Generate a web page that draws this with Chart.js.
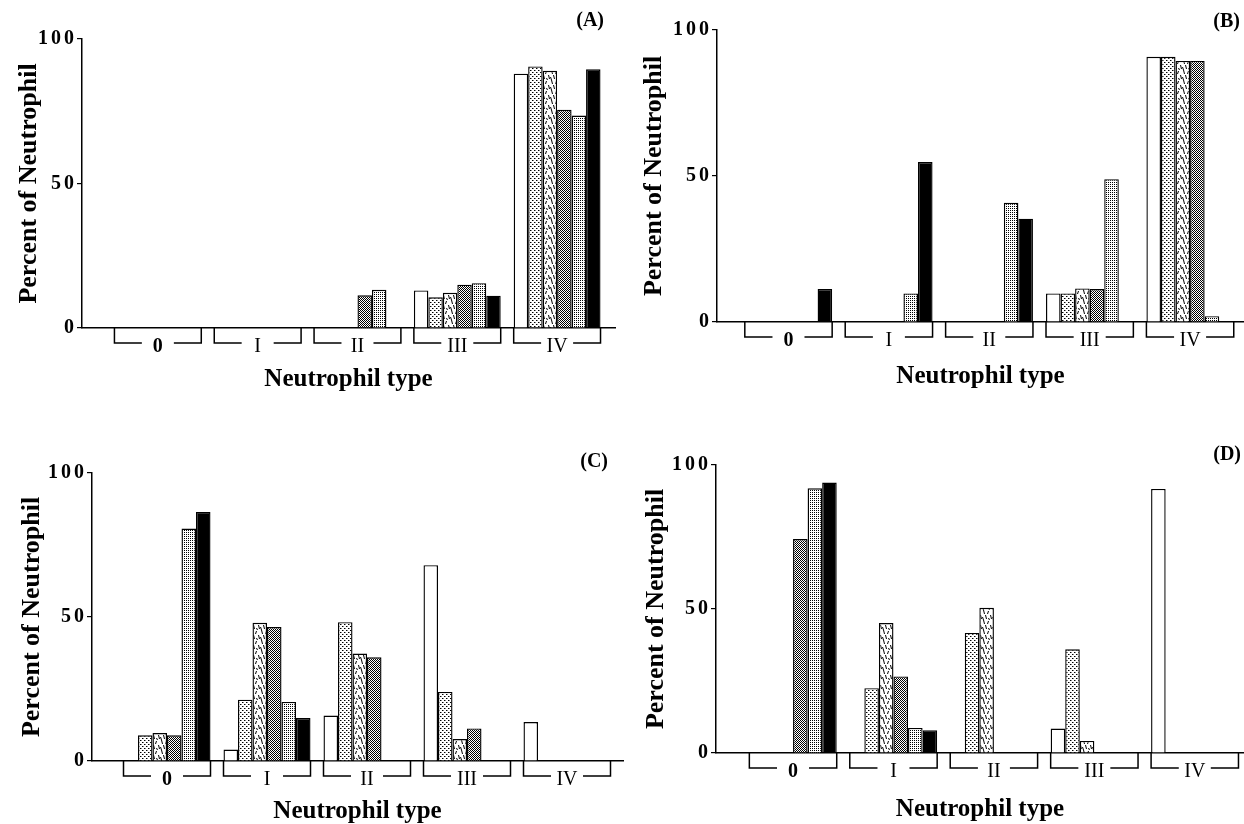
<!DOCTYPE html>
<html>
<head>
<meta charset="utf-8">
<title>Neutrophil type</title>
<script src="https://cdn.jsdelivr.net/npm/chart.js@4.4.0/dist/chart.umd.min.js"></script>
<style>
  html, body { margin: 0; padding: 0; background: #fff; }
  body { position: relative; width: 1244px; height: 824px; overflow: hidden; }
  .panel { position: absolute; }
</style>
</head>
<body>
<div class="panel" id="boxA"><canvas id="chartA"></canvas></div>
<div class="panel" id="boxB"><canvas id="chartB"></canvas></div>
<div class="panel" id="boxC"><canvas id="chartC"></canvas></div>
<div class="panel" id="boxD"><canvas id="chartD"></canvas></div>
<script>
// categories on the x axis and the y ticks
const categories = ['0', 'I', 'II', 'III', 'IV'];
const yTicks = [0, 50, 100];

// bar order inside every group
const seriesKeys = ['open', 'dotted', 'dashed', 'crosshatch', 'stippled', 'solid'];

// percent of neutrophils, one row per series, one value per neutrophil type
const valuesA = [
  [null, null, null, 13.0, 88.0],
  [null, null, null, 10.6, 90.5],
  [null, null, null, 12.2, 89.0],
  [null, null, 11.3, 15.0, 75.5],
  [null, null, 13.2, 15.5, 73.5],
  [null, null, null, 11.2, 89.5]
];
const valuesB = [
  [null, null, null, 9.8, 90.8],
  [null, null, null, 9.8, 90.8],
  [null, null, null, 11.5, 89.4],
  [null, null, null, 11.3, 89.4],
  [null, 9.8, 40.8, 48.9, 2.0],
  [11.3, 54.8, 35.4, null, null]
];
const valuesC = [
  [null, 4.0, 15.8, 68.0, 13.5],
  [8.9, 21.3, 48.2, 24.0, null],
  [9.7, 48.0, 37.3, 7.6, null],
  [8.9, 46.5, 36.0, 11.3, null],
  [80.7, 20.5, null, null, null],
  [86.5, 14.9, null, null, null]
];
const valuesD = [
  [null, null, null, 8.5, 91.7],
  [null, 22.5, 41.7, 36.0, null],
  [null, 45.1, 50.4, 4.2, null],
  [74.3, 26.6, null, null, null],
  [91.9, 8.7, null, null, null],
  [93.9, 7.9, null, null, null]
];

const serif = '"Liberation Serif", "Times New Roman", serif';

// --- fill patterns for the six bar styles ---
function makePattern(size, draw) {
  const c = document.createElement('canvas');
  c.width = c.height = size;
  const g = c.getContext('2d');
  g.fillStyle = '#fff';
  g.fillRect(0, 0, size, size);
  g.fillStyle = '#000';
  g.strokeStyle = '#000';
  draw(g);
  return g.createPattern(c, 'repeat');
}

const fills = {
  open: '#fff',
  dotted: makePattern(4, g => {
    g.fillRect(0, 0, 1, 1);
    g.fillRect(2, 2, 1, 1);
    g.fillStyle = '#888';
    g.fillRect(1, 0, 1, 1);
    g.fillRect(3, 2, 1, 1);
  }),
  dashed: makePattern(10, g => {
    g.lineWidth = 1;
    const dashes = [[1, 0, 2, 4], [6, 1, 5, 4], [3, 5, 4, 9], [8, 5, 9, 9], [0, 7, 1, 10], [6, 8, 7, 10]];
    g.beginPath();
    dashes.forEach(d => { g.moveTo(d[0] + 0.5, d[1]); g.lineTo(d[2] + 0.5, d[3]); });
    g.stroke();
  }),
  crosshatch: makePattern(2, g => {
    g.fillRect(0, 0, 1, 1);
    g.fillRect(1, 1, 1, 1);
  }),
  stippled: makePattern(2, g => {
    g.fillRect(0, 0, 1, 1);
  }),
  solid: '#000'
};

// brackets under each neutrophil type
const bracketPlugin = {
  id: 'typeBrackets',
  afterDraw(chart) {
    const x = chart.scales.x;
    const ctx = chart.ctx;
    const base = chart.chartArea.bottom;
    const low = base + 15;
    ctx.save();
    ctx.strokeStyle = '#000';
    ctx.lineWidth = 1.5;
    categories.forEach((c, i) => {
      const l = x.getPixelForValue(i - 0.435);
      const r = x.getPixelForValue(i + 0.435);
      const m = x.getPixelForValue(i);
      ctx.beginPath();
      ctx.moveTo(l, base);
      ctx.lineTo(l, low);
      ctx.lineTo(m - 16, low);
      ctx.moveTo(m + 16, low);
      ctx.lineTo(r, low);
      ctx.lineTo(r, base);
      ctx.stroke();
    });
    ctx.restore();
  }
};

// the y tick numbers are printed letter-spaced ("1 0 0")
const spacedTicks = {
  id: 'spacedTicks',
  afterLayout(chart) {
    const y = chart.scales.y;
    if (y._spaced) return;
    const orig = y.drawLabels.bind(y);
    y.drawLabels = area => {
      y.ctx.letterSpacing = '3px';
      orig(area);
      y.ctx.letterSpacing = '0px';
    };
    y._spaced = true;
  }
};

// panel letter in the top right corner
const tagPlugin = {
  id: 'panelTag',
  afterDraw(chart, args, opts) {
    const ctx = chart.ctx;
    ctx.save();
    ctx.font = 'bold 20px ' + serif;
    ctx.fillStyle = '#000';
    ctx.textAlign = 'right';
    ctx.textBaseline = 'middle';
    ctx.fillText(opts.text, opts.x, opts.y);
    ctx.restore();
  }
};

// canvas box, axis sizes and x range of each panel
const layouts = {
  A: { box: [0, 0, 620, 398], padTop: 39, padRight: 5, yAxisW: 82, xAxisH: 70, yTitlePad: 16, xTitlePad: 6, xMin: -0.76, xMax: 4.58, tag: [604, 21] },
  B: { box: [622, 0, 622, 394], padTop: 30, padRight: 0, yAxisW: 95, xAxisH: 72, yTitlePad: 19, xTitlePad: 5, xMin: -0.712, xMax: 4.537, tag: [618, 22] },
  C: { box: [0, 420, 625, 404], padTop: 53, padRight: 2, yAxisW: 92, xAxisH: 63, yTitlePad: 19, xTitlePad: 0, xMin: -0.75, xMax: 4.56, tag: [608, 42] },
  D: { box: [622, 420, 622, 404], padTop: 45, padRight: 0, yAxisW: 94, xAxisH: 71, yTitlePad: 21, xTitlePad: 2, xMin: -0.767, xMax: 4.49, tag: [619, 35] }
};

const panels = [
  { id: 'A', values: valuesA },
  { id: 'B', values: valuesB },
  { id: 'C', values: valuesC },
  { id: 'D', values: valuesD }
];

function buildChart(p) {
  const L = layouts[p.id];
  const box = document.getElementById('box' + p.id);
  box.style.left = L.box[0] + 'px';
  box.style.top = L.box[1] + 'px';
  box.style.width = L.box[2] + 'px';
  box.style.height = L.box[3] + 'px';

  const datasets = seriesKeys.map((key, s) => ({
    label: key,
    data: p.values[s].map((v, i) => ({ x: i, y: v })),
    backgroundColor: fills[key],
    borderColor: '#000',
    borderWidth: 1.4,
    borderSkipped: 'bottom',
    barPercentage: 1,
    categoryPercentage: 0.87
  }));

  const titleFont = { family: serif, size: 25, weight: 'bold', lineHeight: 1 };

  return new Chart(document.getElementById('chart' + p.id), {
    type: 'bar',
    data: { datasets },
    options: {
      responsive: true,
      maintainAspectRatio: false,
      animation: false,
      layout: { padding: { top: L.padTop, right: L.padRight, bottom: 0, left: 0 } },
      plugins: {
        legend: { display: false },
        tooltip: { enabled: false },
        panelTag: { text: '(' + p.id + ')', x: L.tag[0], y: L.tag[1] }
      },
      scales: {
        x: {
          type: 'linear',
          min: L.xMin,
          max: L.xMax,
          offset: false,
          grid: { display: false, drawTicks: false },
          border: { display: true, color: '#000', width: 1.5 },
          afterBuildTicks: s => { s.ticks = categories.map((c, i) => ({ value: i })); },
          afterFit: s => { s.height = L.xAxisH; },
          ticks: {
            autoSkip: false,
            maxRotation: 0,
            padding: 7,
            color: '#000',
            font: ctx => ({ family: serif, size: 20, weight: ctx.tick && ctx.tick.value === 0 ? 'bold' : 'normal' }),
            callback: v => categories[v]
          },
          title: {
            display: true,
            text: 'Neutrophil type',
            color: '#000',
            font: titleFont,
            padding: { top: 0, bottom: L.xTitlePad }
          }
        },
        y: {
          min: 0,
          max: 100,
          afterBuildTicks: s => { s.ticks = yTicks.map(v => ({ value: v })); },
          afterFit: s => { s.width = L.yAxisW; },
          grid: { drawOnChartArea: false, drawTicks: true, tickLength: 5, color: '#000', lineWidth: 1.2 },
          border: { display: true, color: '#000', width: 1.5 },
          ticks: { padding: 0, color: '#000', font: { family: serif, size: 20, weight: 'bold' } },
          title: {
            display: true,
            text: 'Percent of Neutrophil',
            color: '#000',
            font: { family: serif, size: 26, weight: 'bold', lineHeight: 1 },
            padding: { top: L.yTitlePad, bottom: 0 }
          }
        }
      }
    },
    plugins: [bracketPlugin, spacedTicks, tagPlugin]
  });
}

panels.forEach(buildChart);
</script>
</body>
</html>
